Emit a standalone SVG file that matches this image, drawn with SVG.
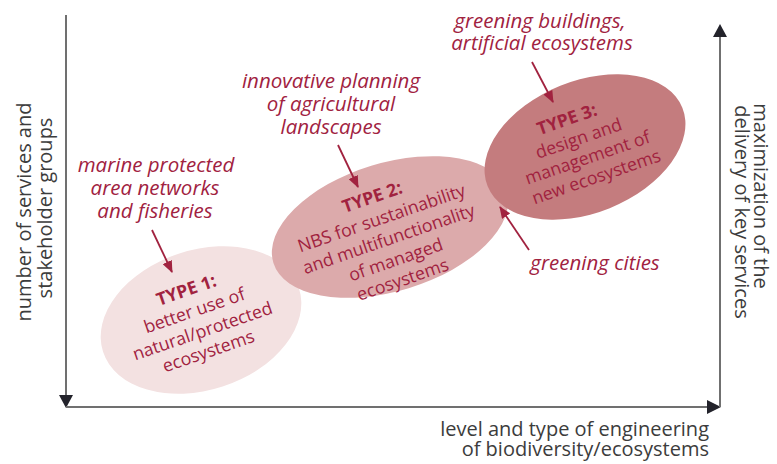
<svg xmlns="http://www.w3.org/2000/svg" width="777" height="464" viewBox="0 0 777 464">
<defs>
<style>
.axis{stroke:#707070;stroke-width:2;fill:none}
.ahead{fill:#23232b}
.lbl{font-family:"Open Sans","Noto Sans",sans-serif;font-style:italic;font-size:20.5px;fill:#a1223f;text-anchor:middle}
.ax{font-family:"Open Sans","Noto Sans",sans-serif;font-size:20px;fill:#3c3c3c;text-anchor:middle}
.in{font-family:"Open Sans","Noto Sans",sans-serif;font-size:17.7px;fill:#a1223f;text-anchor:middle}
.b{font-weight:bold}
.arr{stroke:#a1223f;stroke-width:1.8;fill:none;marker-end:url(#ah)}
</style>
<marker id="ah" markerUnits="userSpaceOnUse" markerWidth="12" markerHeight="10" refX="11" refY="5" orient="auto">
<path d="M0,0 L12,5 L0,10 z" fill="#a1223f"/>
</marker>
</defs>

<g id="axes">
<line class="axis" x1="66" y1="15" x2="66" y2="398"/>
<path class="ahead" d="M59,395 L73,395 L66,408 z"/>
<line class="axis" x1="66" y1="407" x2="710" y2="407"/>
<path class="ahead" d="M707,400 L721,407 L707,414 z"/>
<line class="axis" x1="720" y1="407" x2="720" y2="34"/>
<path class="ahead" d="M713,37 L727,37 L720,24 z"/>
</g>

<g id="type1">
<ellipse cx="201" cy="320" rx="103" ry="70" transform="rotate(-18 201 320)" fill="#f3e1e1"/>
<g transform="translate(198,321) rotate(-19)">
<text class="in b" x="-1" y="-27">TYPE 1:</text>
<text class="in" x="0" y="-5">better use of</text>
<text class="in" x="1" y="17">natural/protected</text>
<text class="in" x="0" y="38">ecosystems</text>
</g>
</g>

<g id="type2">
<ellipse cx="390" cy="227" rx="122" ry="64" transform="rotate(-17 390 227)" fill="#dcaaab"/>
<g transform="translate(389,240) rotate(-19)">
<text class="in b" x="-2" y="-40">TYPE 2:</text>
<text class="in" x="0" y="-17">NBS for sustainability</text>
<text class="in" x="0" y="5">and multifunctionality</text>
<text class="in" x="0" y="27">of managed</text>
<text class="in" x="0" y="48">ecosystems</text>
</g>
</g>

<g id="type3">
<ellipse cx="585" cy="147" rx="105" ry="66" transform="rotate(-22 585 147)" fill="#c47c7e"/>
<g transform="translate(582,148) rotate(-19)">
<text class="in b" x="-5" y="-26">TYPE 3:</text>
<text class="in" x="0" y="-4">design and</text>
<text class="in" x="2" y="17">management of</text>
<text class="in" x="4" y="38">new ecosystems</text>
</g>
</g>

<g id="label-marine">
<text class="lbl" x="156" y="172">marine protected</text>
<text class="lbl" x="155" y="195">area networks</text>
<text class="lbl" x="155" y="218">and fisheries</text>
</g>
<g id="label-agri">
<text class="lbl" x="331" y="88">innovative planning</text>
<text class="lbl" x="331" y="111">of agricultural</text>
<text class="lbl" x="331" y="134">landscapes</text>
</g>
<g id="label-buildings">
<text class="lbl" x="540" y="28">greening buildings,</text>
<text class="lbl" x="542" y="50">artificial ecosystems</text>
</g>
<g id="label-cities">
<text class="lbl" x="595" y="270">greening cities</text>
</g>

<g id="connectors">
<line class="arr" x1="152" y1="230" x2="172" y2="272"/>
<line class="arr" x1="338" y1="145" x2="358" y2="187"/>
<line class="arr" x1="532" y1="62" x2="553" y2="102"/>
<line class="arr" x1="529" y1="250" x2="500" y2="207"/>
</g>

<g id="axis-labels">
<text class="ax" transform="translate(31,212) rotate(-90)">number of services and</text>
<text class="ax" transform="translate(52,208) rotate(-90)">stakeholder groups</text>
<text class="ax" transform="translate(754,196) rotate(90)">maximization of the</text>
<text class="ax" transform="translate(735,212) rotate(90)">delivery of key services</text>
<text class="ax" style="text-anchor:end" x="709" y="436">level and type of engineering</text>
<text class="ax" style="text-anchor:end" x="709" y="456">of biodiversity/ecosystems</text>
</g>
</svg>
